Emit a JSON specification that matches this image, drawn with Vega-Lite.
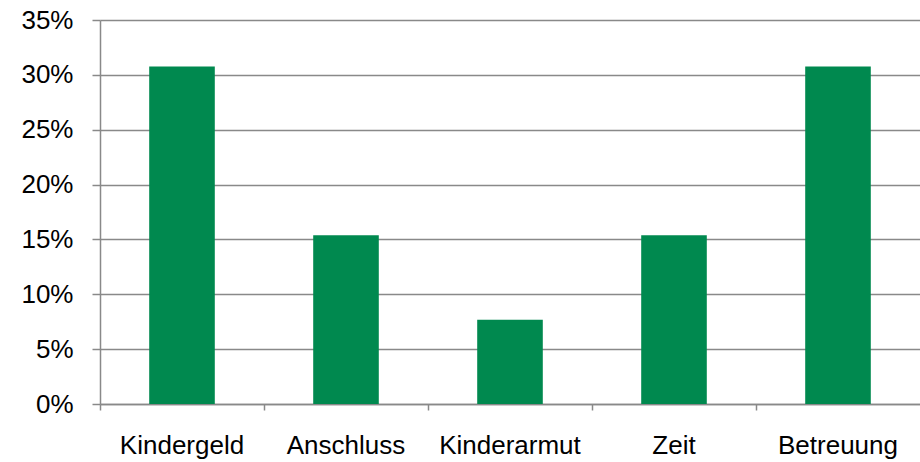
{
  "$schema": "https://vega.github.io/schema/vega-lite/v6.json",
  "width": 820,
  "height": 384,
  "autosize": {"type": "none"},
  "padding": {"left": 100, "top": 20, "right": 0, "bottom": 58},
  "background": "white",
  "data": {"values": [
    {"category": "Kindergeld", "share": 0.3077},
    {"category": "Anschluss", "share": 0.1538},
    {"category": "Kinderarmut", "share": 0.0769},
    {"category": "Zeit", "share": 0.1538},
    {"category": "Betreuung", "share": 0.3077}
  ]},
  "config": {
    "view": {"stroke": null},
    "font": "Liberation Sans"
  },
  "mark": {"type": "bar", "color": "#00894F", "width": {"band": 0.4}},
  "encoding": {
    "x": {
      "field": "category", "type": "nominal", "sort": null,
      "scale": {"paddingInner": 0, "paddingOuter": 0},
      "axis": {
        "title": null, "labelAngle": 0, "bandPosition": 0,
        "labelFont": "Liberation Sans", "labelFontSize": 26, "labelColor": "#000000",
        "labelPadding": 22, "tickSize": 6, "tickColor": "#898989", "tickWidth": 1.5,
        "domainColor": "#898989", "domainWidth": 1.5, "grid": false
      }
    },
    "y": {
      "field": "share", "type": "quantitative",
      "scale": {"domain": [0, 0.35], "nice": false},
      "axis": {
        "title": null, "format": ".0%", "values": [0, 0.05, 0.1, 0.15, 0.2, 0.25, 0.3, 0.35],
        "labelFont": "Liberation Sans", "labelFontSize": 26, "labelColor": "#000000",
        "labelPadding": 19, "tickSize": 8, "tickColor": "#898989", "tickWidth": 1.5,
        "domainColor": "#898989", "domainWidth": 1.5,
        "grid": true, "gridColor": "#898989", "gridWidth": 1.5
      }
    }
  }
}
